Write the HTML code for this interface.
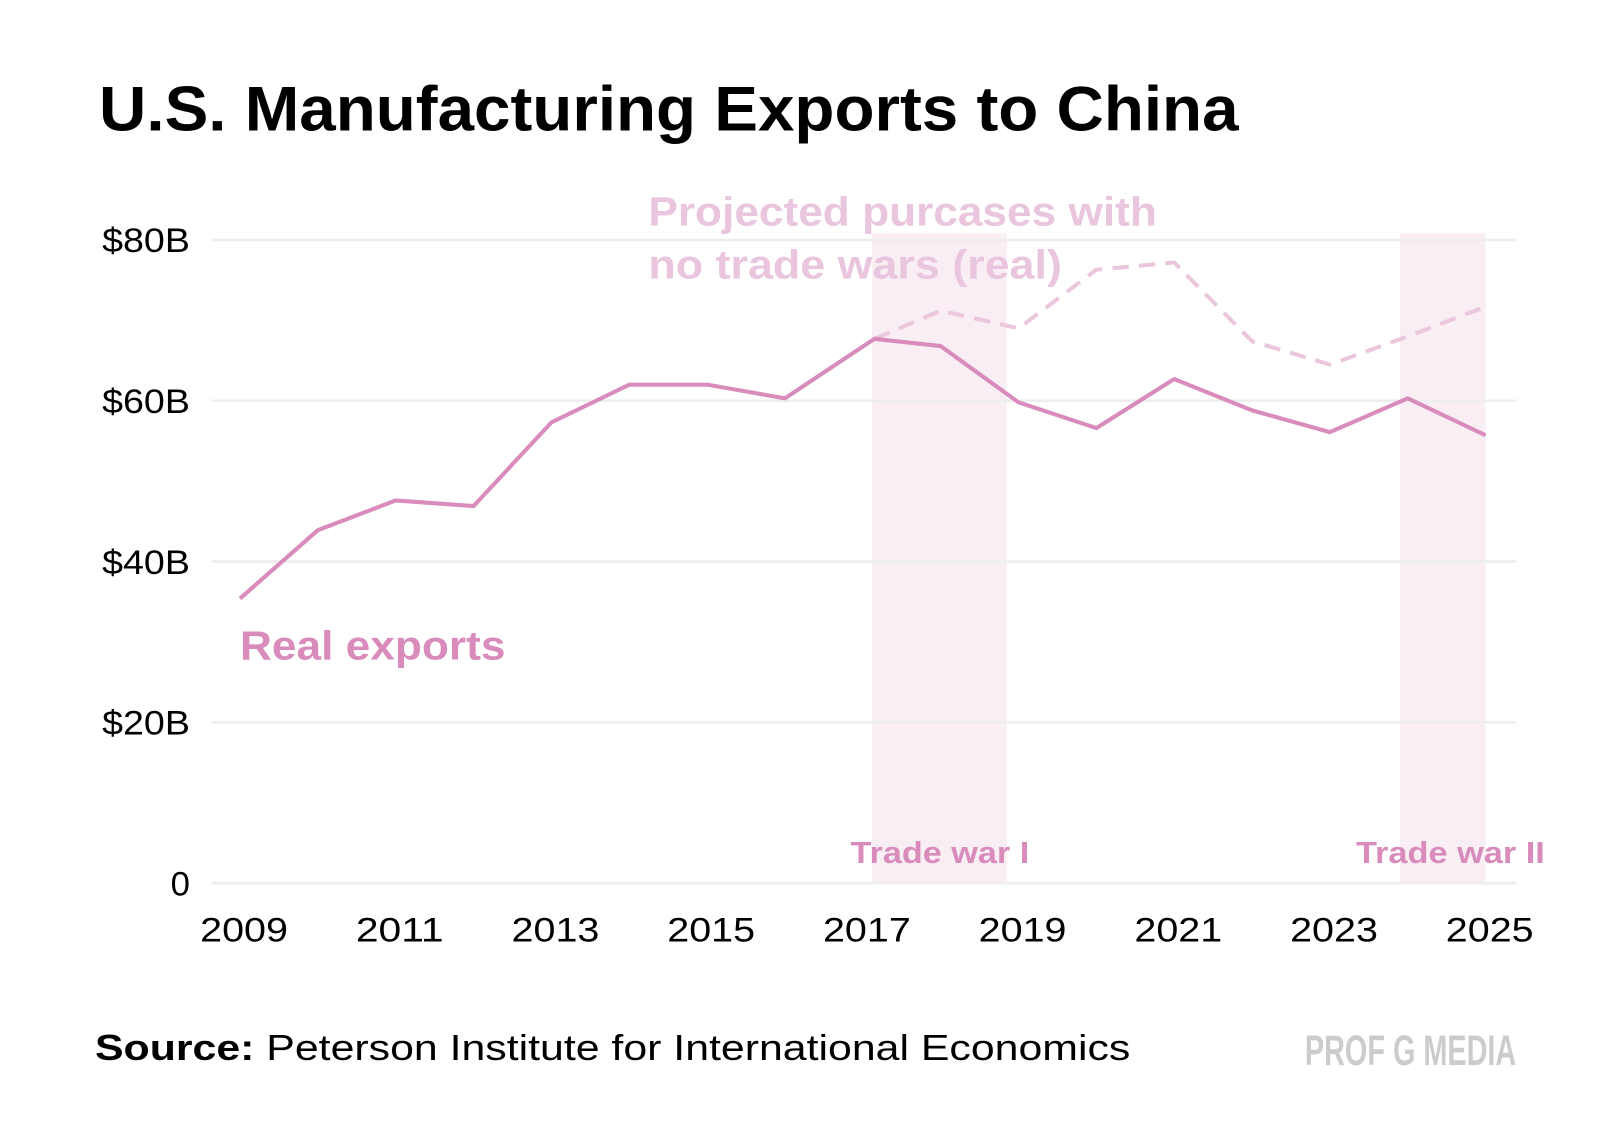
<!DOCTYPE html>
<html><head><meta charset="utf-8"><style>
html,body{margin:0;padding:0;background:#fff;}
svg{display:block;}
text{font-family:"Liberation Sans",sans-serif;}
</style></head><body>
<svg id="chart" width="1600" height="1146" viewBox="0 0 1567 1122.4" xmlns="http://www.w3.org/2000/svg">
<rect width="1567" height="1122.4" fill="#fff"/>
<text x="97" y="128" font-size="62" font-weight="bold" fill="#000" textLength="1116" lengthAdjust="spacingAndGlyphs">U.S. Manufacturing Exports to China</text>
<g id="bands"></g>
<g id="grid"></g>
<g id="series"></g>
<text x="635" y="221" font-size="40" font-weight="bold" fill="#e9c6dd" textLength="498" lengthAdjust="spacingAndGlyphs">Projected purcases with</text>
<text x="635" y="273" font-size="40" font-weight="bold" fill="#e9c6dd" textLength="405" lengthAdjust="spacingAndGlyphs">no trade wars (real)</text>
<text x="235" y="646" font-size="40" font-weight="bold" fill="#d98cbb" textLength="260" lengthAdjust="spacingAndGlyphs">Real exports</text>
<text x="833" y="845" font-size="30" font-weight="bold" fill="#d98cbb" textLength="175" lengthAdjust="spacingAndGlyphs">Trade war I</text>
<text x="1328" y="845" font-size="30" font-weight="bold" fill="#d98cbb" textLength="185" lengthAdjust="spacingAndGlyphs">Trade war II</text>
<text x="93" y="1038" font-size="35" fill="#000" textLength="1014" lengthAdjust="spacingAndGlyphs"><tspan font-weight="bold">Source:</tspan> Peterson Institute for International Economics</text>
<text x="1278" y="1043" font-size="42" font-weight="bold" fill="#cccccc" textLength="207" lengthAdjust="spacingAndGlyphs">PROF G MEDIA</text>
</svg>
<script>
const years = [2009,2010,2011,2012,2013,2014,2015,2016,2017.15,2018,2019,2020,2021,2022,2023,2024,2025];
const realExports = [35.4,43.9,47.6,46.9,57.3,62,62,60.3,67.7,66.8,59.8,56.6,62.7,58.8,56.1,60.3,55.7];
const projYears = [2017.15,2018,2019,2020,2021,2022,2023,2024,2025];
const projected = [67.7,71.2,69,76.3,77.2,67.4,64.5,68,71.7];
const yTicks = [0,20,40,60,80];
const yTickLabels = ["0","$20B","$40B","$60B","$80B"];
const xTicks = [2009,2011,2013,2015,2017,2019,2021,2023,2025];
const bandStarts = [2017.12,2023.9];
const bandEnds = [2018.85,2025];

const NS = "http://www.w3.org/2000/svg";
const x = v => 235 + (v - 2009) * (1455 - 235) / 16;
const y = v => 865 - v * (865 - 235) / 80;
function mk(tag, attrs, parent){const e=document.createElementNS(NS,tag);for(const k in attrs)e.setAttribute(k,attrs[k]);parent.appendChild(e);return e;}

const bands = document.getElementById('bands');
bandStarts.forEach((s,i)=>{
  const r = mk('rect',{x:x(s),y:228,width:x(bandEnds[i])-x(s),height:637,fill:'#f8eef4'},bands);
  
  
});
const grid = document.getElementById('grid');
yTicks.forEach((t,i)=>{
  const l = mk('line',{x1:207,x2:1485,y1:y(t),y2:y(t),stroke:'#eeeeee','stroke-width':2.5},grid);
  
  
  const lab = yTickLabels[i];
  const attrs = {x:186,y:y(t)+12,'font-size':34,fill:'#000','text-anchor':'end'};
  if (lab.length > 1) { attrs.textLength = 86; attrs.lengthAdjust = 'spacingAndGlyphs'; }
  const tx = mk('text',attrs,grid);
  tx.textContent = lab;
  
  
});
xTicks.forEach(t=>{
  const tx = mk('text',{x:x(t)+4,y:922,'font-size':34,fill:'#000','text-anchor':'middle',textLength:86,lengthAdjust:'spacingAndGlyphs'},grid);
  tx.textContent = String(t);
  
  
});
const series = document.getElementById('series');
const pd = projYears.map((yr,i)=>(i?'L':'M')+x(yr)+','+y(projected[i])).join(' ');
const p1 = mk('path',{d:pd,fill:'none',stroke:'#ebc7de','stroke-width':4,'stroke-dasharray':'16,10'},series);


const rd = years.map((yr,i)=>(i?'L':'M')+x(yr)+','+y(realExports[i])).join(' ');
const p2 = mk('path',{d:rd,fill:'none',stroke:'#d98cbb','stroke-width':4,'stroke-linejoin':'round'},series);


</script>
</body></html>
